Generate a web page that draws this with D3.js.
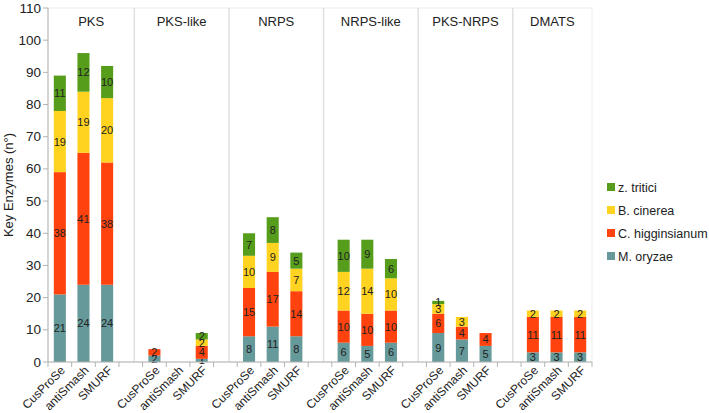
<!DOCTYPE html>
<html>
<head>
<meta charset="utf-8">
<script src="https://cdn.jsdelivr.net/npm/d3@7"></script>
<style>
  body { margin: 0; background: #fff; }
  text { font-family: "Liberation Sans", Arial, sans-serif; }
</style>
</head>
<body>
<div id="chart"></div>
<script>
// groups and tools (x categories)
var groups = ["PKS", "PKS-like", "NRPS", "NRPS-like", "PKS-NRPS", "DMATS"];
var tools = ["CusProSe", "antiSmash", "SMURF"];

// stacked series, bottom to top, one value per group x tool
var oryzae       = [21, 24, 24,  2, 0, 1,  8, 11, 8,  6, 5, 6,  9, 7, 5,  3, 3, 3];
var higginsianum = [38, 41, 38,  2, 0, 4,  15, 17, 14,  10, 10, 10,  6, 4, 4,  11, 11, 11];
var cinerea      = [19, 19, 20,  0, 0, 2,  10, 9, 7,  12, 14, 10,  3, 3, 0,  2, 2, 2];
var tritici      = [11, 12, 10,  0, 0, 2,  7, 8, 5,  10, 9, 6,  1, 0, 0,  0, 0, 0];

var seriesNames = ["M. oryzae", "C. higginsianum", "B. cinerea", "z. tritici"];
var colors = ["#669999", "#ff420e", "#ffd320", "#579d1c"];
var yTicks = [0, 10, 20, 30, 40, 50, 60, 70, 80, 90, 100, 110];

var W = 709, H = 413;
var mLeft = 48, mRight = 592, mTop = 8, mBottom = 362;

var svg = d3.select("#chart").append("svg")
  .attr("width", W)
  .attr("height", H);

// slots: 3 tools per group, one empty slot between groups
var slots = [];
groups.forEach(function (g, gi) {
  tools.forEach(function (t) { slots.push(g + "|" + t); });
  if (gi < groups.length - 1) slots.push("gap" + gi);
});

var x = d3.scaleBand().domain(slots).range([mLeft, mRight])
  .paddingInner(0.49).paddingOuter(0.245);
var step = x.step();
var y = d3.scaleLinear().domain([0, 110]).range([mBottom, mTop]);

// rows for stacking
var rows = [];
groups.forEach(function (g, gi) {
  tools.forEach(function (t, ti) {
    var i = gi * 3 + ti;
    rows.push({ key: g + "|" + t, tool: t, s0: oryzae[i], s1: higginsianum[i], s2: cinerea[i], s3: tritici[i] });
  });
});
var stack = d3.stack().keys(["s0", "s1", "s2", "s3"])(rows);

// panel frames
var slotPos = function (s) { return mLeft + s * step; };
var dividers = groups.slice(1).map(function (g, i) { return slotPos(4 * i + 3.65); });
var edges = [mLeft].concat(dividers).concat([mRight]);

svg.append("rect")
  .attr("x", mLeft).attr("y", mTop)
  .attr("width", mRight - mLeft).attr("height", mBottom - mTop)
  .attr("fill", "none").attr("stroke", "#ececec");

svg.selectAll(".div").data(dividers).enter().append("line")
  .attr("x1", function (d) { return d; }).attr("x2", function (d) { return d; })
  .attr("y1", mTop).attr("y2", mBottom)
  .attr("stroke", "#e0e0e0").attr("stroke-width", 1.5);

svg.selectAll(".glabel").data(groups).enter().append("text")
  .attr("x", function (d, i) { return (edges[i] + edges[i + 1]) / 2; })
  .attr("y", 26)
  .attr("text-anchor", "middle")
  .attr("font-size", 13)
  .attr("fill", "#222")
  .text(function (d) { return d; });

// bars
var layers = svg.selectAll(".layer").data(stack).enter().append("g")
  .attr("fill", function (d, i) { return colors[i]; });

layers.selectAll("rect").data(function (d) { return d; }).enter().append("rect")
  .attr("x", function (d) { return x(d.data.key); })
  .attr("width", x.bandwidth())
  .attr("y", function (d) { return y(d[1]); })
  .attr("height", function (d) { return y(d[0]) - y(d[1]); });

layers.selectAll("text").data(function (d) { return d.filter(function (e) { return e[1] - e[0] > 0; }); })
  .enter().append("text")
  .attr("x", function (d) { return x(d.data.key) + x.bandwidth() / 2; })
  .attr("y", function (d) { return (y(d[0]) + y(d[1])) / 2 + 4; })
  .attr("text-anchor", "middle")
  .attr("font-size", 11)
  .attr("fill", "#222")
  .text(function (d) { return d[1] - d[0]; });

// y axis
svg.append("line")
  .attr("x1", mLeft).attr("x2", mLeft).attr("y1", mTop).attr("y2", mBottom)
  .attr("stroke", "#b3b3b3");
var yg = svg.selectAll(".yt").data(yTicks).enter().append("g");
yg.append("line")
  .attr("x1", mLeft - 5).attr("x2", mLeft)
  .attr("y1", function (d) { return y(d); }).attr("y2", function (d) { return y(d); })
  .attr("stroke", "#b3b3b3");
yg.append("text")
  .attr("x", mLeft - 7)
  .attr("y", function (d) { return y(d) + 4.5; })
  .attr("text-anchor", "end")
  .attr("font-size", 13.5)
  .attr("fill", "#222")
  .text(function (d) { return d; });

svg.append("text")
  .attr("transform", "translate(13," + ((mTop + mBottom) / 2) + ") rotate(-90)")
  .attr("text-anchor", "middle")
  .attr("font-size", 13)
  .attr("fill", "#222")
  .text("Key Enzymes (n°)");

// x axis
svg.append("line")
  .attr("x1", mLeft).attr("x2", mRight).attr("y1", mBottom).attr("y2", mBottom)
  .attr("stroke", "#b3b3b3");
svg.selectAll(".xt").data(d3.range(slots.length + 1)).enter().append("line")
  .attr("x1", function (d) { return slotPos(d); }).attr("x2", function (d) { return slotPos(d); })
  .attr("y1", mBottom).attr("y2", mBottom + 5)
  .attr("stroke", "#b3b3b3");

svg.selectAll(".xl").data(rows).enter().append("text")
  .attr("transform", function (d) {
    return "translate(" + (x(d.key) + x.bandwidth() / 2 + 6) + "," + (mBottom + 9) + ") rotate(-45)";
  })
  .attr("text-anchor", "end")
  .attr("font-size", 12)
  .attr("fill", "#222")
  .text(function (d) { return d.tool; });

// legend (top series first)
var legendOrder = [3, 2, 1, 0];
var lg = svg.selectAll(".lg").data(legendOrder).enter().append("g")
  .attr("transform", function (d, i) { return "translate(607," + (187 + i * 23) + ")"; });
lg.append("rect")
  .attr("x", 0).attr("y", -4).attr("width", 8).attr("height", 8)
  .attr("fill", function (d) { return colors[d]; });
lg.append("text")
  .attr("x", 11).attr("y", 4.5)
  .attr("font-size", 12.5)
  .attr("fill", "#222")
  .text(function (d) { return seriesNames[d]; });
</script>
</body>
</html>
